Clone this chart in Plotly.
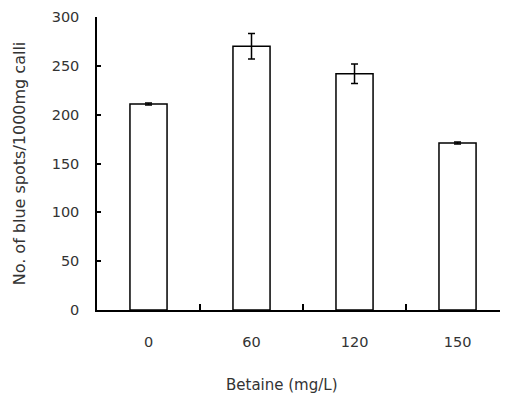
import plotly.graph_objects as go

categories = ["0", "60", "120", "150"]
values = [211, 270, 242, 171]
errors = [1, 13, 10, 1]
y_ticks = [0, 50, 100, 150, 200, 250, 300]

FONT = "DejaVu Sans"
TXT = "#333333"

# page body has an 8px default margin, so the figure is offset by 8px
fig = go.Figure()
fig.add_trace(go.Bar(
    x=categories, y=values,
    width=0.36,
    marker=dict(color="white", line=dict(color="black", width=1.5)),
    error_y=dict(type="data", array=errors, visible=True, color="black", thickness=1.5, width=3.5),
))

fig.update_layout(
    width=500, height=388,
    margin=dict(l=89, r=0, t=9, b=86, autoexpand=False),
    paper_bgcolor="white", plot_bgcolor="white",
    showlegend=False,
    font=dict(family=FONT, size=14.5, color=TXT),
    xaxis=dict(
        type="category",
        automargin=False,
        range=[-0.5, 3.49],
        showline=True, linecolor="black", linewidth=1.5,
        ticks="inside", tickson="boundaries", ticklen=6, tickcolor="black", tickwidth=1.5,
        showgrid=False, zeroline=False,
        ticklabelstandoff=18,
        tickfont=dict(family=FONT, size=14.5, color=TXT),
    ),
    yaxis=dict(
        automargin=False,
        range=[0, 300],
        tickvals=y_ticks,
        ticklabeloverflow="allow",
        showline=True, linecolor="black", linewidth=1.5,
        ticks="inside", ticklen=4, tickcolor="black", tickwidth=1.5,
        showgrid=False, zeroline=False,
        ticklabelstandoff=13,
        tickfont=dict(family=FONT, size=14.5, color=TXT),
        title=dict(text="No. of blue spots/1000mg calli", standoff=22,
                   font=dict(family=FONT, size=16, color=TXT)),
    ),
    annotations=[dict(
        text="Betaine (mg/L)", xref="paper", yref="paper",
        x=(282 - 97) / 411, y=-(385 - 310) / 293,
        xanchor="center", yanchor="middle", showarrow=False,
        font=dict(family=FONT, size=15, color=TXT),
    )],
)

fig.write_html("out.html")
